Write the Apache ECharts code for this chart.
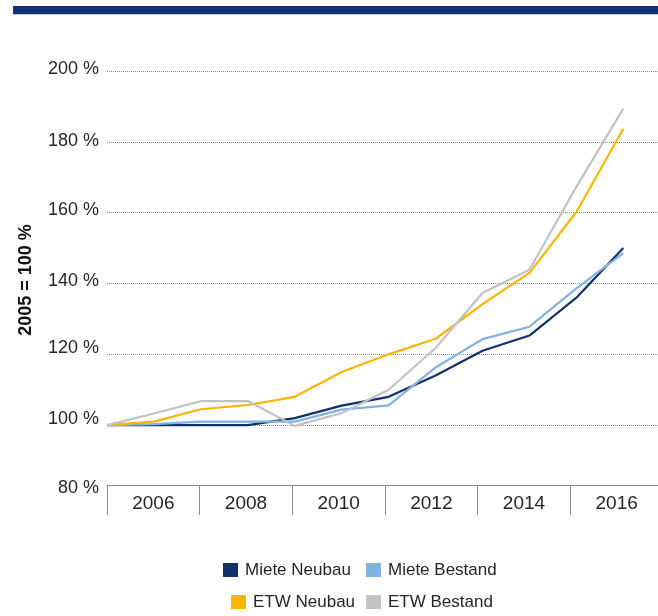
<!DOCTYPE html>
<html><head><meta charset="utf-8">
<script src="https://cdn.jsdelivr.net/npm/echarts@6/dist/echarts.min.js"></script>
<style>html,body{margin:0;padding:0;background:#fff;overflow:hidden}#c{width:658px;height:616px}</style>
</head><body><div id="c"></div>
<script>
const years = [2005, 2006, 2007, 2008, 2009, 2010, 2011, 2012, 2013, 2014, 2015, 2016];
const mieteNeubau  = [100, 100,   100,   100,   102,  105.5, 108,   114,   121,   125.3, 136,   150];
const mieteBestand = [100, 100.3, 101,   101,   101,  104.4, 105.6, 116.3, 124.3, 127.8, 138.6, 148.6];
const etwNeubau    = [100, 101,   104.5, 105.7, 108,  115,   120,   124.4, 134.2, 143,   160.2, 183.7];
const etwBestand   = [100, 103.3, 106.8, 106.8, 99.8, 103.4, 110,   121.8, 137.3, 143.9, 167.3, 189.4];
const seriesNames = ['Miete Neubau', 'Miete Bestand', 'ETW Neubau', 'ETW Bestand'];
const xTickLabels = ['2006', '2008', '2010', '2012', '2014', '2016'];
const yTickValues = [80, 100, 120, 140, 160, 180, 200];
const yTitle = '2005 = 100 %';

const FONT = '"Liberation Sans", Arial, sans-serif';
const TEXT = '#262626';
const colors = ['#14306c', '#80b2e2', '#fbb400', '#c2c2c2'];
const seriesData = [mieteNeubau, mieteBestand, etwNeubau, etwBestand];

const labelShift = {80: 15, 100: 13, 120: 13, 140: 5, 160: 6, 180: 2, 200: 3};
const rich = {};
yTickValues.forEach(v => {
  rich['s' + v] = {fontSize: 18, fontFamily: FONT, color: TEXT, padding: [0, 0, labelShift[v], 0]};
});

const chart = echarts.init(document.getElementById('c'), null, {renderer: 'canvas'});
chart.setOption({
  animation: false,
  backgroundColor: '#fff',
  grid: {left: 107, right: -5, top: 71, height: 425, containLabel: false, outerBoundsMode: 'none'},
  xAxis: [
    {type: 'value', position: 'bottom', show: false, min: 2005, max: 2016.845},
    {type: 'value', position: 'bottom', offset: -11, min: 0, max: 12, interval: 2,
     axisLine: {show: true, onZero: false, lineStyle: {color: '#8c8c8c', width: 1}},
     axisTick: {show: true, length: 30, lineStyle: {color: '#8c8c8c', width: 1}},
     axisLabel: {show: false}, splitLine: {show: false}},
    {type: 'value', position: 'bottom', offset: -11, min: 0, max: 12, interval: 1,
     axisLine: {show: false, onZero: false}, axisTick: {show: false}, splitLine: {show: false},
     axisLabel: {show: true, margin: 9, fontSize: 19, color: TEXT, fontFamily: FONT,
       formatter: v => (v % 2 === 1 ? xTickLabels[(v - 1) / 2] : '')}}
  ],
  yAxis: {
    type: 'value', min: 80, max: 200, interval: 20, position: 'left',
    axisLine: {show: false}, axisTick: {show: false},
    splitLine: {show: true, showMinLine: false, lineStyle: {type: 'dotted', color: '#8a8a8a', width: 1}},
    axisLabel: {margin: 8, fontSize: 18, color: TEXT, fontFamily: FONT,
      formatter: v => '{s' + v + '|' + v + ' %}', rich: rich}
  },
  legend: seriesNames.map((n, i) => ({
    data: [n], icon: 'rect', itemWidth: 15, itemHeight: 14, padding: 0, itemGap: 0,
    left: [223, 366, 231, 366][i], top: [561, 561, 593, 593][i],
    textStyle: {fontSize: 17, lineHeight: 18, color: TEXT, fontFamily: FONT, padding: [0, 0, 0, 2]}
  })),
  series: seriesNames.map((n, i) => ({
    name: n, type: 'line', xAxisIndex: 0, symbol: 'none', showSymbol: false,
    color: colors[i], itemStyle: {color: colors[i]},
    lineStyle: {color: colors[i], width: 2.2},
    data: years.map((y, j) => [y, seriesData[i][j]])
  })),
  graphic: [
    {type: 'rect', shape: {x: 13, y: 6, width: 645, height: 8}, style: {fill: '#12306e'}},
    {type: 'rect', shape: {x: 13, y: 14, width: 645, height: 1}, style: {fill: '#b9c9e6'}},
    {type: 'text', x: 26, y: 280, rotation: Math.PI / 2,
     style: {text: yTitle, fontSize: 18, fontWeight: 'bold', fontFamily: FONT, fill: '#111',
             textAlign: 'center', textVerticalAlign: 'middle'}}
  ]
});
</script>
</body></html>
